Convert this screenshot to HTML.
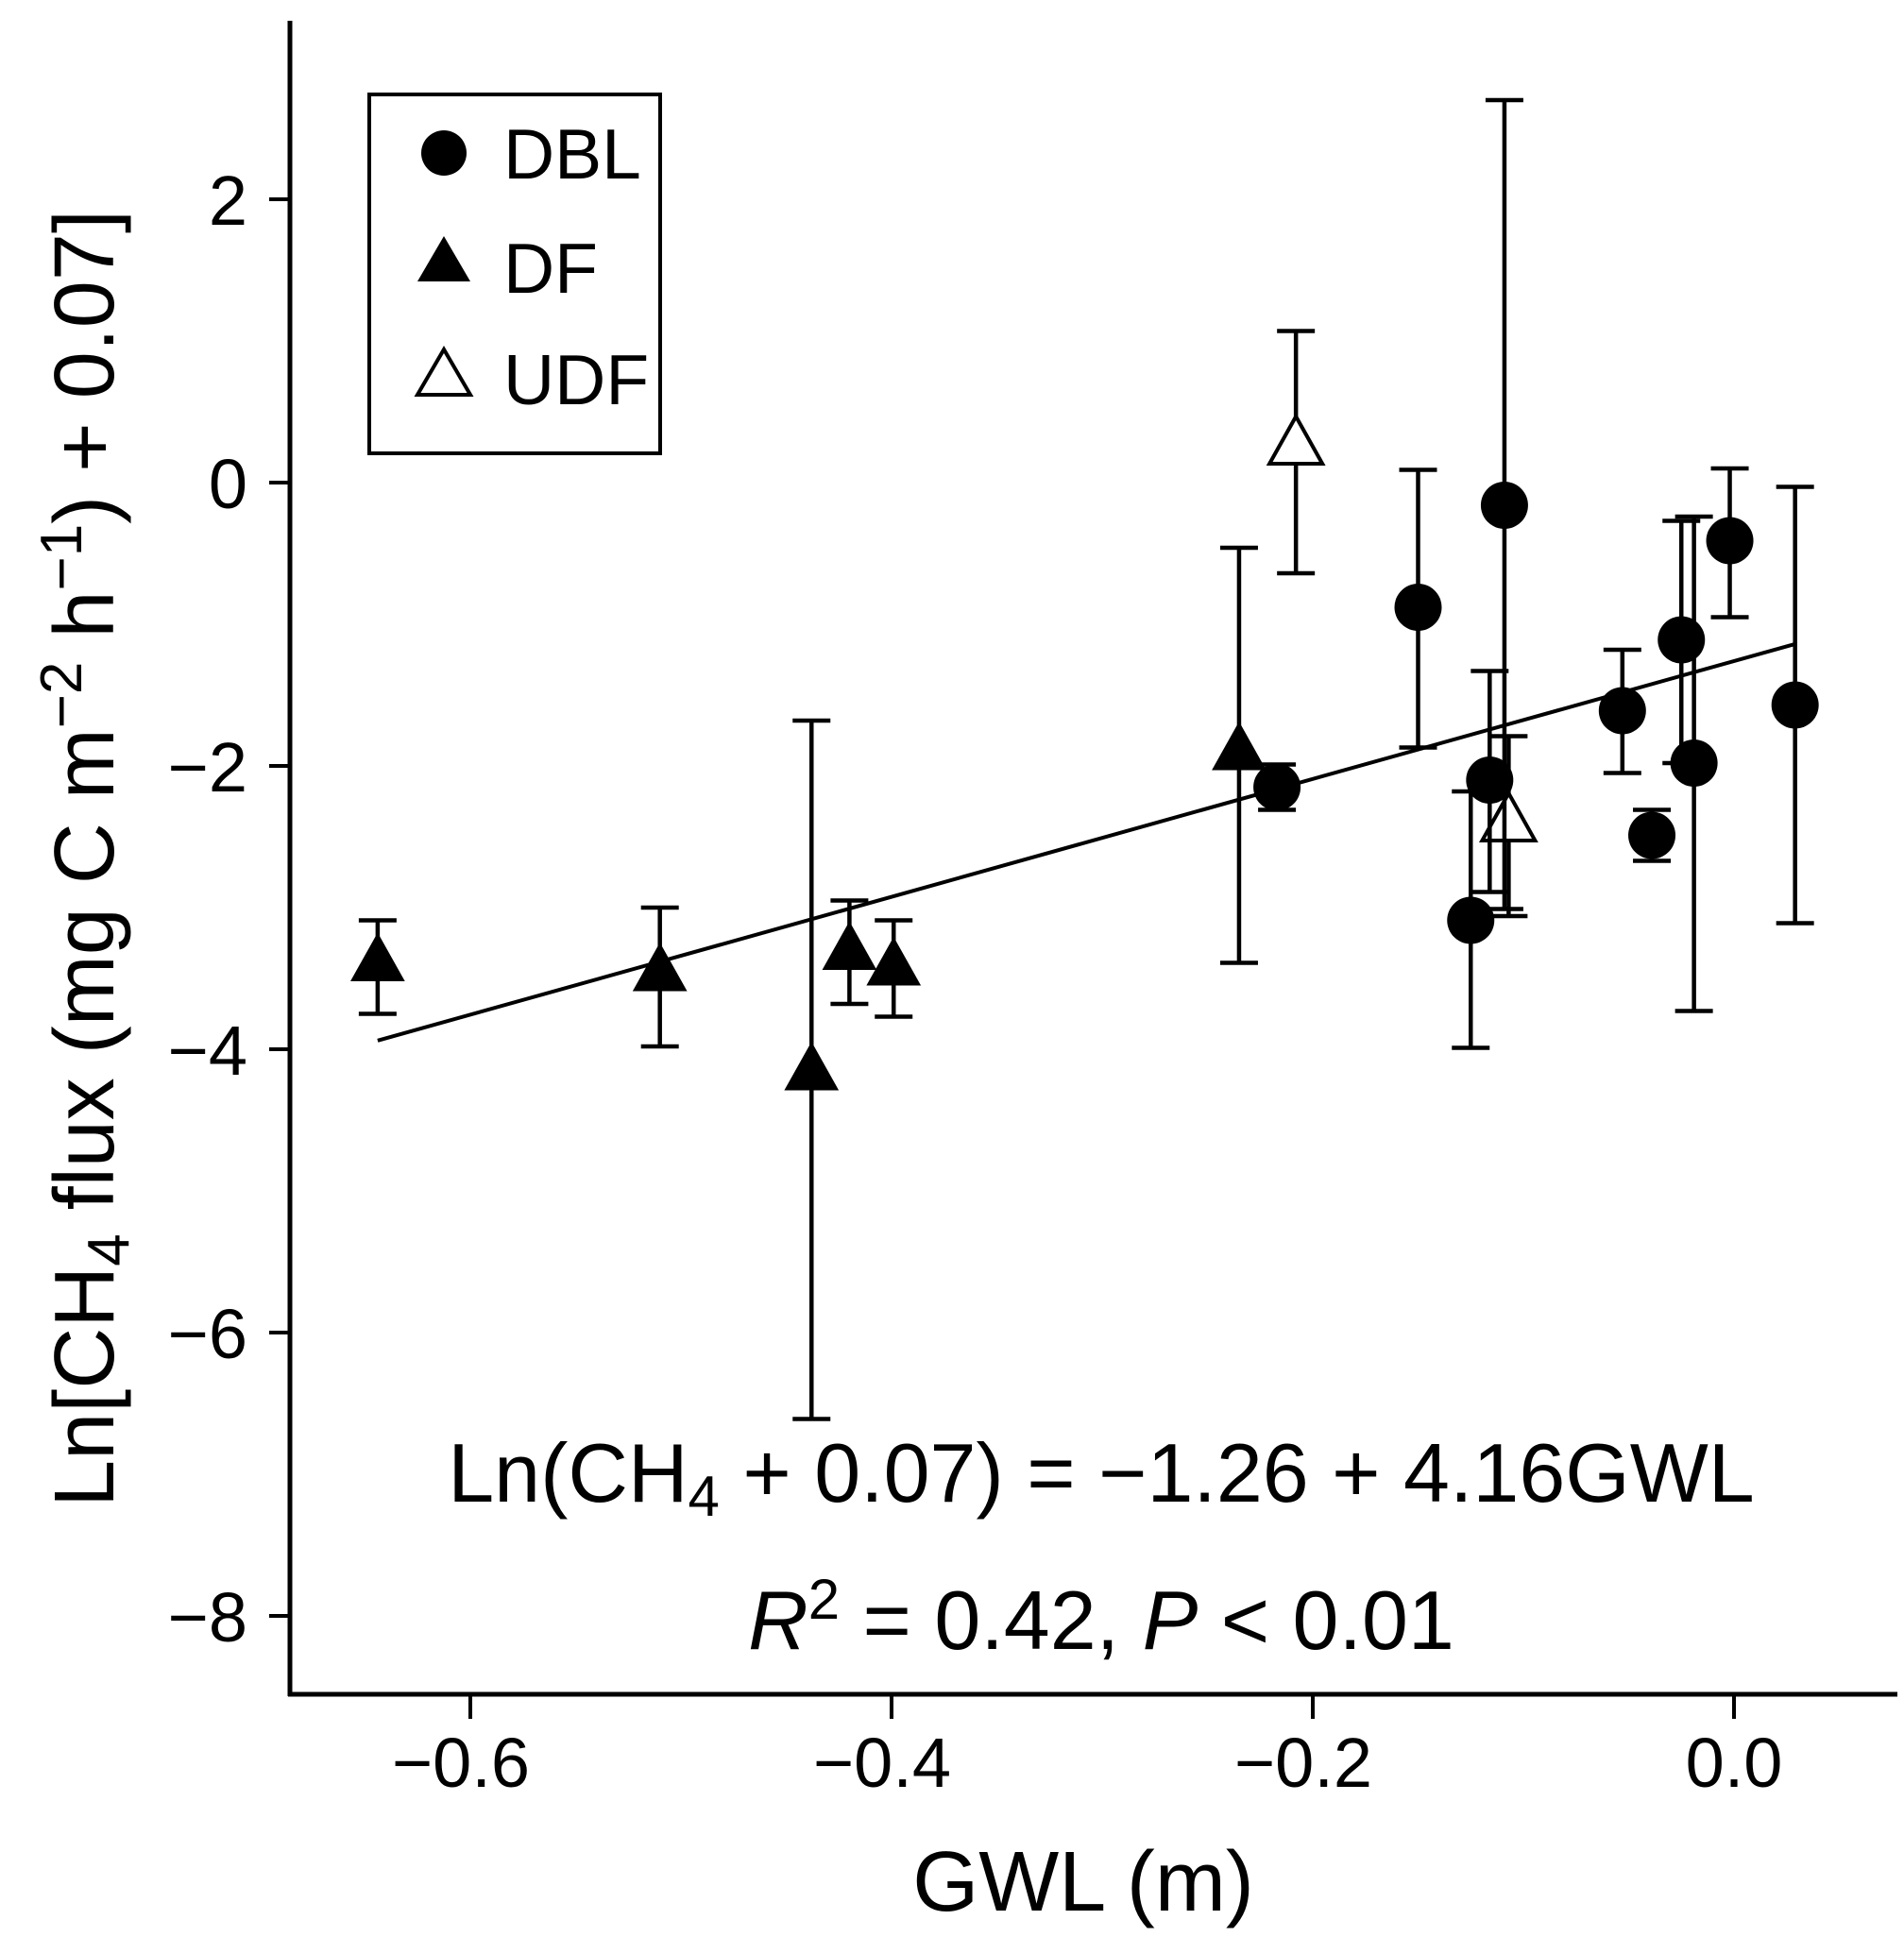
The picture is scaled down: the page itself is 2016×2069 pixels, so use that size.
<!DOCTYPE html>
<html><head><meta charset="utf-8"><style>
html,body{margin:0;padding:0;background:#fff;}
svg{display:block;font-family:"Liberation Sans",sans-serif;}
</style></head><body>
<svg id="chart" width="2016" height="2069" viewBox="0 0 2016 2069" xmlns="http://www.w3.org/2000/svg">
<g id="axes"></g>
<g id="marks"></g>
<g>
<rect x="391" y="100" width="308" height="380" fill="#fff" stroke="#000" stroke-width="4"/>
<circle cx="470" cy="162" r="24" fill="#000"/>
<text x="533" y="189" font-size="75">DBL</text>
<polygon points="470,250 442,298 498,298" fill="#000"/>
<text x="533" y="310" font-size="75">DF</text>
<polygon points="470,370 442,418 498,418" fill="#fff" stroke="#000" stroke-width="4"/>
<text x="533" y="428" font-size="75">UDF</text>
</g>
<text x="1166" y="1590" font-size="88" text-anchor="middle">Ln(CH<tspan font-size="60" dy="15">4</tspan><tspan dy="-15"> + 0.07) = −1.26 + 4.16GWL</tspan></text>
<text x="1166" y="1746" font-size="88" text-anchor="middle"><tspan font-style="italic">R</tspan><tspan font-size="60" dy="-32">2</tspan><tspan dy="32"> = 0.42, </tspan><tspan font-style="italic">P</tspan> &lt; 0.01</text>
<text x="1147" y="2023" font-size="90" text-anchor="middle">GWL (m)</text>
<text transform="translate(120,909) rotate(-90)" font-size="90" text-anchor="middle">Ln[CH<tspan font-size="62" dy="16">4</tspan><tspan dy="-16"> flux (mg C m</tspan><tspan font-size="62" dy="-34">−2</tspan><tspan dy="34"> h</tspan><tspan font-size="62" dy="-34">−1</tspan><tspan dy="34">) + 0.07]</tspan></text>
</svg>
<script>
const dblX=[-0.217,-0.150,-0.125,-0.116,-0.109,-0.053,-0.039,-0.025,-0.019,-0.002,0.029];
const dblY=[-2.15,-0.88,-3.09,-2.10,-0.16,-1.61,-2.49,-1.11,-1.98,-0.41,-1.57];
const dblHi=[-1.99,0.09,-2.18,-1.33,2.70,-1.18,-2.31,-0.27,-0.24,0.10,-0.03];
const dblLo=[-2.31,-1.87,-3.99,-2.89,-3.01,-2.05,-2.67,-1.98,-3.73,-0.95,-3.11];
const dfX=[-0.644,-0.510,-0.438,-0.420,-0.399,-0.235];
const dfY=[-3.39,-3.46,-4.16,-3.31,-3.42,-1.90];
const dfHi=[-3.09,-3.00,-1.68,-2.95,-3.09,-0.46];
const dfLo=[-3.75,-3.98,-6.61,-3.68,-3.77,-3.39];
const udfX=[-0.208,-0.107];
const udfY=[0.26,-2.40];
const udfHi=[1.07,-1.79];
const udfLo=[-0.64,-3.06];
const xTicks=[-0.6,-0.4,-0.2,0.0];
const xTickLabels=["−0.6","−0.4","−0.2","0.0"];
const yTicks=[2,0,-2,-4,-6,-8];
const yTickLabels=["2","0","−2","−4","−6","−8"];
const fitIntercept=-1.26, fitSlope=4.16, fitRange=[-0.644,0.029];

const NS="http://www.w3.org/2000/svg";
const sx=v=>1836+2230*v;
const sy=v=>511-150*v;
function mk(tag,attrs,parent){const e=document.createElementNS(NS,tag);for(const k in attrs)e.setAttribute(k,attrs[k]);parent.appendChild(e);return e;}
const axes=document.getElementById('axes'), marks=document.getElementById('marks');
let e=mk('line',{x1:307,y1:22,x2:307,y2:1796,stroke:'#000','stroke-width':5},axes);


e=mk('line',{x1:305,y1:1794,x2:2009,y2:1794,stroke:'#000','stroke-width':5},axes);


xTicks.forEach((t,i)=>{
  let l=mk('line',{x1:sx(t),y1:1794,x2:sx(t),y2:1820,stroke:'#000','stroke-width':4},axes);
  
  
  let tx=mk('text',{x:sx(t)-(t<0?10:0),y:1892,'font-size':74,'text-anchor':'middle'},axes);tx.textContent=xTickLabels[i];
  
  
});
yTicks.forEach((t,i)=>{
  let l=mk('line',{x1:285,y1:sy(t),x2:307,y2:sy(t),stroke:'#000','stroke-width':4},axes);
  
  
  let tx=mk('text',{x:262,y:sy(t)+27,'font-size':74,'text-anchor':'end'},axes);tx.textContent=yTickLabels[i];
  
  
});
let fl=mk('line',{x1:sx(fitRange[0]),y1:sy(fitIntercept+fitSlope*fitRange[0]),x2:sx(fitRange[1]),y2:sy(fitIntercept+fitSlope*fitRange[1]),stroke:'#000','stroke-width':4},marks);


function errbar(x,hi,lo){
  const X=sx(x),cw=20;
  let g=mk('path',{d:`M${X},${sy(hi)}V${sy(lo)}M${X-cw},${sy(hi)}H${X+cw}M${X-cw},${sy(lo)}H${X+cw}`,stroke:'#000','stroke-width':4.5,fill:'none'},marks);
  
  
}
function tri(x,y,fill){
  const X=sx(x),Y=sy(y);
  return mk('polygon',{points:`${X},${Y-31} ${X-28},${Y+19} ${X+28},${Y+19}`,fill:fill,stroke:'#000','stroke-width':fill==='#fff'?4:1},marks);
}
dfX.forEach((x,i)=>{errbar(x,dfHi[i],dfLo[i]);let p=tri(x,dfY[i],'#000');
  
  });
udfX.forEach((x,i)=>{errbar(x,udfHi[i],udfLo[i]);let p=tri(x,udfY[i],'#fff');
  
  });
dblX.forEach((x,i)=>{errbar(x,dblHi[i],dblLo[i]);let c=mk('circle',{cx:sx(x),cy:sy(dblY[i]),r:25,fill:'#000'},marks);
  
  });
</script>
</body></html>
